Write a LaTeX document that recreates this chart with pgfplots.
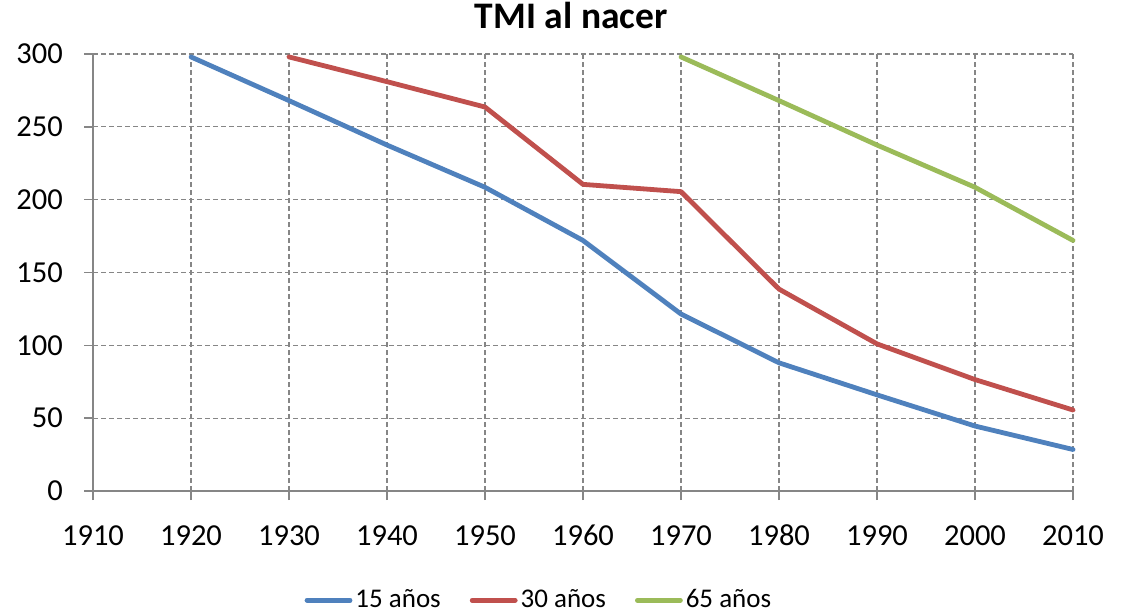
\documentclass[border=0pt]{standalone}
\usepackage{fontspec}
\setmainfont{Carlito}
\usepackage{pgfplots}
\pgfplotsset{compat=1.18}
\definecolor{cblue}{HTML}{4F81BD}
\definecolor{cred}{HTML}{C0504D}
\definecolor{cgreen}{HTML}{9BBB59}
\definecolor{cgrid}{HTML}{868686}
\begin{document}
\fontsize{30}{36}\selectfont
\begin{tikzpicture}[x=1pt,y=1pt]
\useasboundingbox (0,0) rectangle (1126,614);
\begin{axis}[
  at={(93pt,123pt)}, anchor=south west,
  scale only axis, width=980pt, height=437pt,
  xmin=1910, xmax=2010, ymin=0, ymax=300,
  xtick={1910,1920,...,2010}, ytick={0,50,...,300},
  /pgf/number format/assume math mode=true,
  /pgf/number format/1000 sep={},
  axis lines=left,
  axis line style={-, draw=cgrid, line width=1.5pt},
  tick align=outside, major tick length=9pt,
  tick style={draw=cgrid, line width=1.5pt},
  grid=major,
  major grid style={draw=cgrid, line width=1.3pt, dash pattern=on 5pt off 3pt},
  ticklabel style={font=\fontsize{30.5}{36}\selectfont},
  xticklabel style={anchor=north, text height=20pt, text depth=0pt, yshift=-15pt},
  yticklabel style={xshift=-11pt},
  title={\textbf{TMI al nacer}},
  title style={at={(0.488,1.0435)}, anchor=base, font=\fontsize{37.5}{44}\selectfont},
  legend columns=3,
  legend style={at={(0.455,-0.25)}, anchor=center, draw=none, fill=none,
    font=\fontsize{27}{33}\selectfont, column sep=1pt,
    /tikz/every even column/.append style={column sep=27pt}},
  legend image code/.code={\draw[#1, line cap=round] (0pt,0pt) -- (43pt,0pt);},
  every axis plot/.append style={line width=4.8pt, line join=round, line cap=round},
  clip=false,
]
\addplot[cblue] coordinates {(1920,298) (1930,268) (1940,237.5) (1950,208.5) (1960,172) (1970,121.5) (1980,88) (1990,66) (2000,44.6) (2010,28.5)};
\addlegendentry{15 años}
\addplot[cred] coordinates {(1930,298) (1940,281) (1950,263.6) (1960,210.5) (1970,205.5) (1980,138.6) (1990,101) (2000,76.5) (2010,55.6)};
\addlegendentry{30 años}
\addplot[cgreen] coordinates {(1970,298) (1980,268) (1990,237.5) (2000,208.5) (2010,172)};
\addlegendentry{65 años}
\end{axis}
\end{tikzpicture}
\end{document}
